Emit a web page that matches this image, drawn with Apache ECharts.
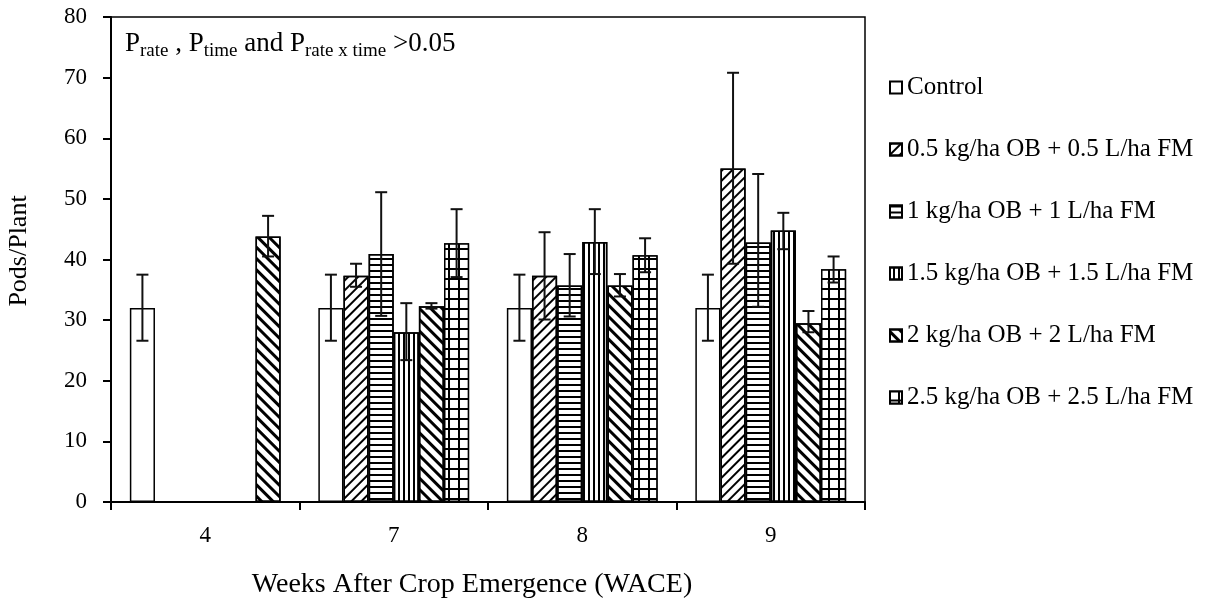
<!DOCTYPE html>
<html>
<head>
<meta charset="utf-8">
<script src="https://cdn.jsdelivr.net/npm/echarts@6/dist/echarts.min.js"></script>
<style>
  html, body { margin: 0; padding: 0; background: #fff; }
  #chart { width: 1208px; height: 602px; }
</style>
</head>
<body>
<div id="chart"></div>
<script>
// weeks after crop emergence
const weeks = ['4', '7', '8', '9'];

const seriesNames = [
  'Control',
  '0.5 kg/ha OB + 0.5 L/ha FM',
  '1 kg/ha OB + 1 L/ha FM',
  '1.5 kg/ha OB + 1.5 L/ha FM',
  '2 kg/ha OB + 2 L/ha FM',
  '2.5 kg/ha OB + 2.5 L/ha FM'
];

// mean pods per plant
const control = [32, 32, 32, 32];
const rate05 = [null, 37.3, 37.3, 55.0];
const rate1 = [null, 40.9, 35.7, 42.8];
const rate15 = [null, 28.0, 42.9, 44.8];
const rate2 = [null, 32.3, 35.7, 29.5];
const rate25 = [43.8, 42.7, 40.7, 38.4];

// error bar ends (low / high)
const controlLow = [26.6, 26.6, 26.6, 26.6];
const controlHigh = [37.5, 37.5, 37.5, 37.5];
const rate05Low = [null, 35.5, 30.1, 39.3];
const rate05High = [null, 39.3, 44.5, 70.8];
const rate1Low = [null, 30.7, 30.6, 32.2];
const rate1High = [null, 51.1, 40.9, 54.1];
const rate15Low = [null, 23.4, 37.6, 41.7];
const rate15High = [null, 32.8, 48.3, 47.7];
const rate2Low = [null, 31.9, 33.9, 28.0];
const rate2High = [null, 32.8, 37.6, 31.5];
const rate25Low = [40.5, 37.1, 37.9, 36.2];
const rate25High = [47.2, 48.3, 43.5, 40.5];

const yTicks = [0, 10, 20, 30, 40, 50, 60, 70, 80];

const means = [control, rate05, rate1, rate15, rate2, rate25];
const lows = [controlLow, rate05Low, rate1Low, rate15Low, rate2Low, rate25Low];
const highs = [controlHigh, rate05High, rate1High, rate15High, rate2High, rate25High];

const FONT = 'Liberation Serif';
const GAP = 0.2; // barCategoryGap

// hatch patterns (black lines over a white bar)
function lines(rot, on, off) {
  return {
    symbol: 'rect', symbolSize: 1, symbolKeepAspect: false, color: '#000',
    dashArrayX: [1, 0], dashArrayY: [on, off], rotation: rot
  };
}
const decals = [
  null,
  lines(-Math.PI / 4, 2, 5),
  lines(0, 2, 4),
  lines(Math.PI / 2, 2, 3),
  lines(Math.PI / 4, 3, 5),
  // grid: white squares on a black bar
  { symbol: 'rect', symbolSize: 1, symbolKeepAspect: false, color: '#fff',
    dashArrayX: [8, 2], dashArrayY: [8, 2], rotation: 0 }
];
const fills = ['#fff', '#fff', '#fff', '#fff', '#fff', '#000'];

const chart = echarts.init(document.getElementById('chart'));

const barSeries = seriesNames.map((name, s) => ({
  name: name,
  type: 'bar',
  barGap: '0%',
  barCategoryGap: (GAP * 100) + '%',
  data: means[s].map((v, i) => {
    // week 4: the last slot is hatched like the 2 kg bars in the original
    if (s === 5 && i === 0) {
      return { value: v, itemStyle: { color: '#fff', decal: decals[4] } };
    }
    return v;
  }),
  itemStyle: {
    color: fills[s],
    borderColor: '#000',
    borderWidth: 1.5,
    decal: decals[s] || undefined
  },
  emphasis: { disabled: true }
}));

const errData = [];
means.forEach((arr, s) => {
  arr.forEach((v, i) => {
    if (v != null) errData.push([i, s, lows[s][i], highs[s][i]]);
  });
});

function renderErr(params, api) {
  const cat = api.value(0);
  const s = api.value(1);
  const band = api.size([1, 0])[0];
  const bw = band * (1 - GAP) / 6;
  const cx = api.coord([cat, 0])[0] - 3 * bw + (s + 0.5) * bw;
  const yLo = api.coord([cat, api.value(2)])[1];
  const yHi = api.coord([cat, api.value(3)])[1];
  const cap = 6;
  const st = { stroke: '#111', lineWidth: 2 };
  return {
    type: 'group',
    children: [
      { type: 'line', shape: { x1: cx, y1: yLo, x2: cx, y2: yHi }, style: st },
      { type: 'line', shape: { x1: cx - cap, y1: yHi, x2: cx + cap, y2: yHi }, style: st },
      { type: 'line', shape: { x1: cx - cap, y1: yLo, x2: cx + cap, y2: yLo }, style: st }
    ]
  };
}

chart.setOption({
  backgroundColor: '#fff',
  animation: false,
  textStyle: { fontFamily: FONT, color: '#000' },
  grid: {
    left: 111, right: 343, top: 17, bottom: 100,
    outerBoundsMode: 'none',
    containLabel: false,
    show: true, borderColor: '#000', borderWidth: 1.5, backgroundColor: 'transparent'
  },
  legend: {
    orient: 'vertical',
    left: 884,
    top: 70,
    itemWidth: 12,
    itemHeight: 12,
    itemGap: 37,
    icon: 'rect',
    selectedMode: false,
    data: seriesNames,
    textStyle: { fontFamily: FONT, fontSize: 25, color: '#000' }
  },
  xAxis: {
    type: 'category',
    data: weeks,
    name: 'Weeks After Crop Emergence (WACE)',
    nameLocation: 'middle',
    nameGap: 69,
    nameTextStyle: { fontFamily: FONT, fontSize: 28, color: '#000', padding: [0, 32, 0, 0] },
    axisLine: { lineStyle: { color: '#000', width: 2 } },
    axisTick: { show: true, length: 8, lineStyle: { color: '#000', width: 2 } },
    axisLabel: { margin: 22, fontFamily: FONT, fontSize: 23, color: '#000' }
  },
  yAxis: {
    type: 'value',
    min: 0,
    max: 80,
    interval: 10,
    name: 'Pods/Plant',
    nameLocation: 'middle',
    nameGap: 79,
    nameTextStyle: { fontFamily: FONT, fontSize: 26, color: '#000', padding: [0, 0, 0, 17] },
    axisLine: { show: true, lineStyle: { color: '#000', width: 2 } },
    axisTick: { show: true, length: 8, lineStyle: { color: '#000', width: 2 } },
    axisLabel: {
      margin: 24, fontFamily: FONT, fontSize: 23, color: '#000',
      formatter: v => (yTicks.indexOf(v) >= 0 ? String(v) : '')
    },
    splitLine: { show: false }
  },
  graphic: [{
    type: 'text',
    left: 125,
    top: 30,
    style: {
      text: '{m|P}{s|rate}{m| , P}{s|time}{m| and P}{s|rate x time}{m| >0.05}',
      rich: {
        m: { fontFamily: FONT, fontSize: 27, color: '#000', lineHeight: 34 },
        s: { fontFamily: FONT, fontSize: 19, color: '#000', lineHeight: 17, verticalAlign: 'bottom' }
      }
    }
  }],
  series: barSeries.concat([{
    type: 'custom',
    name: 'err',
    renderItem: renderErr,
    data: errData,
    z: 5,
    silent: true
  }])
});
</script>
</body>
</html>
